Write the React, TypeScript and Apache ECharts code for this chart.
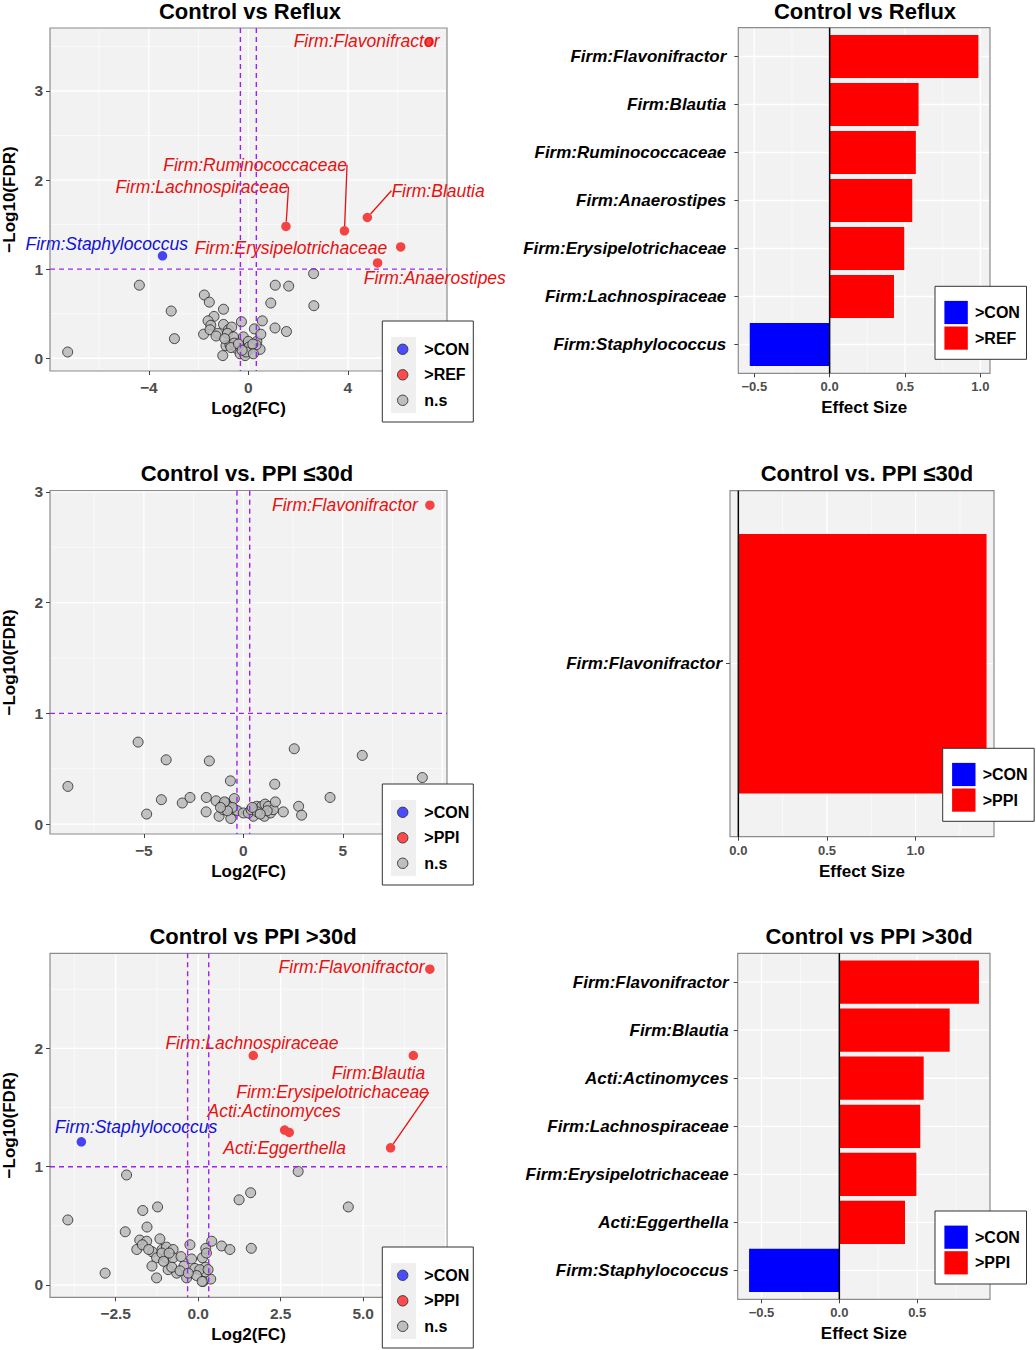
import React, { useEffect, useRef } from 'react';
import * as echarts from 'echarts';

const FONT = '"Liberation Sans", Arial, Helvetica, sans-serif';

// ======================= DATA =======================
// --- Volcano: Control vs Reflux ---
const REFLUX_NS: number[][] = [
  [-7.26, 0.07], [-4.38, 0.82], [-3.10, 0.53], [-2.97, 0.22], [-1.77, 0.71], [-1.57, 0.63],
  [-1.00, 0.55], [-1.38, 0.47], [-1.62, 0.42], [-1.51, 0.37], [-1.80, 0.27], [-1.54, 0.32],
  [-1.23, 0.28], [-1.30, 0.25], [-1.00, 0.38], [-0.80, 0.32], [-0.67, 0.35], [-0.84, 0.28],
  [-0.60, 0.24], [-0.90, 0.14], [-0.74, 0.15], [-1.03, 0.03], [-0.47, 0.11], [-0.33, 0.05],
  [-0.28, 0.41], [-0.20, 0.24], [-0.16, 0.11], [-0.13, 0.03], [0.00, 0.19], [0.10, 0.11],
  [0.24, 0.33], [0.34, 0.19], [0.47, 0.10], [0.50, 0.27], [0.56, 0.42], [0.31, 0.15],
  [0.04, 0.13], [-0.57, 0.17], [-0.09, 0.07], [0.90, 0.62], [1.08, 0.82], [1.62, 0.81],
  [1.07, 0.34], [1.53, 0.30], [2.62, 0.95], [2.63, 0.59], [-0.70, 0.12], [-0.40, 0.16],
  [0.18, 0.16], [-0.25, 0.09], [0.20, 0.05], [-0.95, 0.22],
];
const REFLUX_CON_TAXA = ['Firm:Staphylococcus'];
const REFLUX_CON_POINTS: number[][] = [[-3.45, 1.15]];
const REFLUX_UP_TAXA = [
  'Firm:Flavonifractor', 'Firm:Blautia', 'Firm:Ruminococcaceae',
  'Firm:Lachnospiraceae', 'Firm:Erysipelotrichaceae', 'Firm:Anaerostipes',
];
const REFLUX_UP_POINTS: number[][] = [[7.26, 3.55], [4.78, 1.58], [3.86, 1.43], [1.51, 1.48], [6.12, 1.25], [5.19, 1.07]];

// --- Volcano: Control vs PPI <=30d ---
const PPI_SHORT_NS: number[][] = [
  [-8.82, 0.34], [-5.29, 0.74], [-3.88, 0.58], [-1.71, 0.57], [2.56, 0.68], [5.98, 0.62],
  [9.00, 0.42], [-0.65, 0.39], [1.58, 0.36], [-4.86, 0.09], [-4.12, 0.22], [-3.07, 0.19],
  [-2.68, 0.24], [-1.86, 0.24], [-1.87, 0.11], [-1.37, 0.21], [-1.22, 0.07], [-1.04, 0.17],
  [-0.87, 0.19], [-0.70, 0.16], [-1.01, 0.13], [-0.67, 0.13], [-0.45, 0.23], [-0.63, 0.05],
  [-0.42, 0.13], [-0.30, 0.12], [0.00, 0.10], [0.50, 0.07], [0.59, 0.14], [0.67, 0.16],
  [0.80, 0.10], [0.92, 0.16], [1.06, 0.07], [1.09, 0.18], [1.26, 0.16], [1.37, 0.10],
  [1.51, 0.13], [1.61, 0.20], [2.01, 0.11], [2.78, 0.16], [2.93, 0.08], [4.36, 0.24],
  [0.25, 0.10], [0.39, 0.13], [-0.55, 0.15], [-0.80, 0.12], [-0.95, 0.20], [0.70, 0.11],
  [1.20, 0.12], [0.45, 0.15], [-1.15, 0.15], [0.85, 0.09],
];
const PPI_SHORT_UP_TAXA = ['Firm:Flavonifractor'];
const PPI_SHORT_UP_POINTS: number[][] = [[9.38, 2.88]];

// --- Volcano: Control vs PPI >30d ---
const PPI_LONG_NS: number[][] = [
  [-3.95, 0.55], [-2.82, 0.10], [-2.17, 0.93], [-2.21, 0.45], [-1.68, 0.63], [-1.23, 0.66],
  [-1.55, 0.49], [-1.77, 0.38], [-1.56, 0.37], [-1.86, 0.30], [-1.69, 0.34], [-1.16, 0.39],
  [-1.39, 0.28], [-1.26, 0.23], [-1.09, 0.30], [-0.96, 0.32], [-0.76, 0.30], [-0.98, 0.23],
  [-0.76, 0.23], [-0.52, 0.24], [-1.40, 0.16], [-1.26, 0.06], [-0.91, 0.13], [-0.65, 0.10],
  [-0.43, 0.16], [-0.25, 0.34], [-0.20, 0.22], [-0.10, 0.14], [-0.35, 0.06], [0.13, 0.23],
  [0.23, 0.31], [0.25, 0.27], [0.15, 0.03], [0.38, 0.05], [0.41, 0.37], [0.71, 0.33],
  [0.96, 0.30], [1.24, 0.72], [1.59, 0.78], [1.61, 0.31], [3.03, 0.96], [4.55, 0.66],
  [0.22, 0.15], [0.22, 0.11], [-1.10, 0.27], [-0.80, 0.15], [-0.55, 0.12], [0.05, 0.13],
  [-0.05, 0.08], [0.12, 0.03], [-1.50, 0.30], [-0.30, 0.10], [0.30, 0.13], [-0.88, 0.27],
  [-1.05, 0.20],
];
const PPI_LONG_CON_TAXA = ['Firm:Staphylococcus'];
const PPI_LONG_CON_POINTS: number[][] = [[-3.54, 1.21]];
const PPI_LONG_UP_TAXA = [
  'Firm:Flavonifractor', 'Firm:Lachnospiraceae', 'Firm:Blautia',
  'Acti:Actinomyces', 'Acti:Eggerthella', 'Firm:Erysipelotrichaceae',
];
const PPI_LONG_UP_POINTS: number[][] = [[7.02, 2.67], [1.67, 1.94], [6.52, 1.94], [2.62, 1.31], [2.76, 1.29], [5.83, 1.16]];

// --- Effect size bars ---
const REFLUX_BAR_TAXA = [
  'Firm:Flavonifractor', 'Firm:Blautia', 'Firm:Ruminococcaceae', 'Firm:Anaerostipes',
  'Firm:Erysipelotrichaceae', 'Firm:Lachnospiraceae', 'Firm:Staphylococcus',
];
const REFLUX_BAR_EFFECT = [0.987, 0.59, 0.572, 0.548, 0.495, 0.427, -0.53];
const REFLUX_BAR_GROUP = ['up', 'up', 'up', 'up', 'up', 'up', 'con'];

const PPI_SHORT_BAR_TAXA = ['Firm:Flavonifractor'];
const PPI_SHORT_BAR_EFFECT = [1.40];
const PPI_SHORT_BAR_GROUP = ['up'];

const PPI_LONG_BAR_TAXA = [
  'Firm:Flavonifractor', 'Firm:Blautia', 'Acti:Actinomyces', 'Firm:Lachnospiraceae',
  'Firm:Erysipelotrichaceae', 'Acti:Eggerthella', 'Firm:Staphylococcus',
];
const PPI_LONG_BAR_EFFECT = [0.897, 0.709, 0.542, 0.520, 0.495, 0.422, -0.58];
const PPI_LONG_BAR_GROUP = ['up', 'up', 'up', 'up', 'up', 'up', 'con'];

// --- thresholds ---
const LOG2FC_CUT = 0.32;
const NEG_LOG10_FDR_CUT = 1;

// --- tick labels / breaks ---
const REFLUX_X_TICKS = [-4, 0, 4];
const REFLUX_X_BREAKS = [-4, 0, 4];
const REFLUX_X_MINOR = [-6, -2, 2, 6];
const REFLUX_Y_TICKS = [0, 1, 2, 3];
const REFLUX_Y_MINOR = [0.5, 1.5, 2.5, 3.5];

const PPI_SHORT_X_TICKS = [-5, 0, 5];
const PPI_SHORT_X_BREAKS = [-5, 0, 5, 10];
const PPI_SHORT_X_MINOR = [-7.5, -2.5, 2.5, 7.5];
const PPI_SHORT_Y_TICKS = [0, 1, 2, 3];
const PPI_SHORT_Y_MINOR = [0.5, 1.5, 2.5];

const PPI_LONG_X_TICKS = [-2.5, 0, 2.5, 5];
const PPI_LONG_X_BREAKS = [-2.5, 0, 2.5, 5, 7.5];
const PPI_LONG_X_MINOR = [-3.75, -1.25, 1.25, 3.75, 6.25];
const PPI_LONG_Y_TICKS = [0, 1, 2];
const PPI_LONG_Y_MINOR = [0.5, 1.5, 2.5];

const REFLUX_BAR_TICKS = [-0.5, 0, 0.5, 1.0];
const REFLUX_BAR_MINOR = [-0.25, 0.25, 0.75];
const PPI_SHORT_BAR_TICKS = [0, 0.5, 1.0];
const PPI_SHORT_BAR_MINOR = [0.25, 0.75, 1.25];
const PPI_LONG_BAR_TICKS = [-0.5, 0, 0.5];
const PPI_LONG_BAR_MINOR = [-0.25, 0.25, 0.75];

// ======================= STYLE / LAYOUT =======================
const PANEL_BG = '#F2F2F2';
const PANEL_BORDER = '#8C8C8C';
const TICK_COLOR = '#444444';
const TICK_TEXT = '#4D4D4D';
const LABEL_RED = '#E81010';
const LABEL_BLUE = '#1010D8';
const POINT_RED = '#F44343';
const POINT_BLUE = '#4444F2';
const BAR_COLORS: Record<string, string> = { up: '#FF0000', con: '#0000FF' };

const LINE_STYLES: Record<number, any> = {
  0: { stroke: '#FFFFFF', lineWidth: 1.3 },
  1: { stroke: '#FFFFFF', lineWidth: 1.3 },
  2: { stroke: '#FFFFFF', lineWidth: 0.6 },
  3: { stroke: '#FFFFFF', lineWidth: 0.6 },
  4: { stroke: '#000000', lineWidth: 1.5 },
  5: { stroke: '#A020F0', lineWidth: 1.4, lineDash: [5, 4] },
  6: { stroke: '#A020F0', lineWidth: 1.4, lineDash: [5, 4] },
};
const VERTICAL_KINDS = [0, 2, 4, 5];

const VOLCANO_PANELS = [
  {
    title: 'Control vs Reflux', titleX: 250, titleTop: 0,
    rect: { left: 50, top: 28, width: 397, height: 343 },
    xRange: [-7.97, 7.98], yRange: [-0.143, 3.707],
    xTicks: REFLUX_X_TICKS, xBreaks: REFLUX_X_BREAKS, xMinor: REFLUX_X_MINOR,
    yTicks: REFLUX_Y_TICKS, yMinor: REFLUX_Y_MINOR, xDecimals: 0,
    ns: REFLUX_NS, conTaxa: REFLUX_CON_TAXA, conPoints: REFLUX_CON_POINTS,
    upTaxa: REFLUX_UP_TAXA, upPoints: REFLUX_UP_POINTS, upName: '>REF',
    conOffsets: [[-55.8, -12]], conSegments: [false],
    upOffsets: [[-62.5, -1], [70.7, -26.7], [-89.3, -66], [-84, -39.7], [-109.7, 1.3], [57.3, 15.3]],
    upSegments: [false, true, true, true, false, false],
    legend: [382.3, 321], xNameGap: 28.5,
  },
  {
    title: 'Control vs. PPI \u226430d', titleX: 247, titleTop: 462,
    rect: { left: 50, top: 490.7, width: 397, height: 343.3 },
    xRange: [-9.72, 10.24], yRange: [-0.09, 3.011],
    xTicks: PPI_SHORT_X_TICKS, xBreaks: PPI_SHORT_X_BREAKS, xMinor: PPI_SHORT_X_MINOR,
    yTicks: PPI_SHORT_Y_TICKS, yMinor: PPI_SHORT_Y_MINOR, xDecimals: 0,
    ns: PPI_SHORT_NS, conTaxa: [] as string[], conPoints: [] as number[][],
    upTaxa: PPI_SHORT_UP_TAXA, upPoints: PPI_SHORT_UP_POINTS, upName: '>PPI',
    conOffsets: [] as number[][], conSegments: [] as boolean[],
    upOffsets: [[-85, 0]], upSegments: [false],
    legend: [382.3, 784], xNameGap: 29,
  },
  {
    title: 'Control vs PPI >30d', titleX: 253, titleTop: 925,
    rect: { left: 50, top: 953.3, width: 397, height: 344 },
    xRange: [-4.49, 7.54], yRange: [-0.104, 2.804],
    xTicks: PPI_LONG_X_TICKS, xBreaks: PPI_LONG_X_BREAKS, xMinor: PPI_LONG_X_MINOR,
    yTicks: PPI_LONG_Y_TICKS, yMinor: PPI_LONG_Y_MINOR, xDecimals: 1,
    ns: PPI_LONG_NS, conTaxa: PPI_LONG_CON_TAXA, conPoints: PPI_LONG_CON_POINTS,
    upTaxa: PPI_LONG_UP_TAXA, upPoints: PPI_LONG_UP_POINTS, upName: '>PPI',
    conOffsets: [[54.7, -14.6]], conSegments: [false],
    upOffsets: [[-78.3, -2.3], [-1.3, -12.4], [-34.9, 17.3], [-10.5, -19.3], [-4.6, 15.7], [-58, -55.4]],
    upSegments: [false, false, false, false, false, true],
    legend: [382.3, 1247], xNameGap: 29,
  },
];

const BAR_PANELS = [
  {
    title: 'Control vs Reflux', titleX: 865, titleTop: 0,
    rect: { left: 738.3, top: 27.7, width: 251.7, height: 345.6 },
    xRange: [-0.606, 1.064], xTicks: REFLUX_BAR_TICKS, xMinor: REFLUX_BAR_MINOR,
    taxa: REFLUX_BAR_TAXA, effect: REFLUX_BAR_EFFECT, groups: REFLUX_BAR_GROUP,
    upName: '>REF', legend: [935, 286.3], labelMargin: 12,
  },
  {
    title: 'Control vs. PPI \u226430d', titleX: 867, titleTop: 462,
    rect: { left: 730, top: 490.7, width: 264, height: 346 },
    xRange: [-0.047, 1.442], xTicks: PPI_SHORT_BAR_TICKS, xMinor: PPI_SHORT_BAR_MINOR,
    taxa: PPI_SHORT_BAR_TAXA, effect: PPI_SHORT_BAR_EFFECT, groups: PPI_SHORT_BAR_GROUP,
    upName: '>PPI', legend: [942.7, 748.3], labelMargin: 8,
  },
  {
    title: 'Control vs PPI >30d', titleX: 869, titleTop: 925,
    rect: { left: 737.7, top: 953.3, width: 252.3, height: 346 },
    xRange: [-0.653, 0.968], xTicks: PPI_LONG_BAR_TICKS, xMinor: PPI_LONG_BAR_MINOR,
    taxa: PPI_LONG_BAR_TAXA, effect: PPI_LONG_BAR_EFFECT, groups: PPI_LONG_BAR_GROUP,
    upName: '>PPI', legend: [935, 1211], labelMargin: 9,
  },
];

// ======================= HELPERS =======================
const fmtTick = (decimals: number) => (v: number) => {
  const s = Math.abs(v).toFixed(decimals);
  return (v < -1e-9 ? '\u2212' : '') + s;
};

const nameStyle = { fontFamily: FONT, fontWeight: 'bold', fontSize: 17, color: '#000000' };

function lineSeries(axisIdx: number, rows: number[][], z: number, inset: number) {
  return {
    type: 'custom',
    xAxisIndex: axisIdx,
    yAxisIndex: axisIdx,
    z,
    silent: true,
    clip: false,
    data: rows,
    renderItem: (params: any, api: any) => {
      const cs = params.coordSys;
      const kind = api.value(2);
      const p = api.coord([api.value(0), api.value(1)]);
      const vertical = VERTICAL_KINDS.indexOf(kind) >= 0;
      const shape = vertical
        ? { x1: p[0], y1: cs.y + inset, x2: p[0], y2: cs.y + cs.height - inset }
        : { x1: cs.x + inset, y1: p[1], x2: cs.x + cs.width - inset, y2: p[1] };
      return { type: 'line', shape, style: { ...LINE_STYLES[kind], fill: null } };
    },
  };
}

function labeledScatter(axisIdx: number, name: string, taxa: string[], pts: number[][],
  offsets: number[][], segs: boolean[], pointColor: string, textColor: string) {
  return {
    type: 'scatter',
    name,
    xAxisIndex: axisIdx,
    yAxisIndex: axisIdx,
    z: 3,
    silent: true,
    symbolSize: 9.5,
    itemStyle: { color: pointColor, opacity: 1 },
    data: pts.map((p, k) => ({
      name: taxa[k],
      value: p,
      labelLine: { show: segs[k], lineStyle: { color: textColor, width: 1.3, opacity: 1 } },
    })),
    label: {
      show: true,
      position: 'inside',
      formatter: '{b}',
      color: textColor,
      opacity: 1,
      fontStyle: 'italic',
      fontSize: 17.5,
      fontFamily: FONT,
      align: 'center',
      verticalAlign: 'middle',
      textBorderWidth: 0,
    },
    labelLine: { show: false, lineStyle: { color: textColor, width: 1.3, opacity: 1 } },
    labelLayout: (params: any) => {
      const o = offsets[params.dataIndex] || [0, 0];
      return { dx: o[0], dy: o[1] };
    },
  };
}

function volcanoLegend(x: number, y: number, labels: string[]) {
  const colors = ['#4B4BFF', '#FF4B4B', '#BEBEBE'];
  const children: any[] = [
    { type: 'rect', z: 100, shape: { x: 0, y: 0, width: 91, height: 101 }, style: { fill: '#FFFFFF', stroke: '#333333', lineWidth: 1 } },
    { type: 'rect', z: 100, shape: { x: 8.7, y: 16, width: 25, height: 76 }, style: { fill: '#EFEFEF' } },
  ];
  labels.forEach((t, k) => {
    const cy = 28.3 + 25.5 * k;
    children.push({ type: 'circle', z: 101, shape: { cx: 20.4, cy, r: 5.2 }, style: { fill: colors[k], stroke: '#333333', lineWidth: 0.9 } });
    children.push({ type: 'text', z: 101, x: 42, y: cy, style: { text: t, fill: '#000000', fontSize: 16, fontWeight: 'bold', fontFamily: FONT, verticalAlign: 'middle', align: 'left' } });
  });
  return { type: 'group', x, y, z: 100, children };
}

function barLegend(x: number, y: number, labels: string[]) {
  const colors = [BAR_COLORS.con, BAR_COLORS.up];
  const children: any[] = [
    { type: 'rect', z: 100, shape: { x: 0, y: 0, width: 91.5, height: 73 }, style: { fill: '#FFFFFF', stroke: '#333333', lineWidth: 1 } },
  ];
  labels.forEach((t, k) => {
    const top = 14.6 + 25.6 * k;
    children.push({ type: 'rect', z: 101, shape: { x: 9.4, y: top, width: 23.4, height: 23.2 }, style: { fill: colors[k] } });
    children.push({ type: 'text', z: 101, x: 40, y: top + 11.6, style: { text: t, fill: '#000000', fontSize: 16, fontWeight: 'bold', fontFamily: FONT, verticalAlign: 'middle', align: 'left' } });
  });
  return { type: 'group', x, y, z: 100, children };
}

// ======================= OPTION =======================
function buildOption() {
  const grid: any[] = [];
  const xAxis: any[] = [];
  const yAxis: any[] = [];
  const series: any[] = [];
  const title: any[] = [];
  const elements: any[] = [];

  VOLCANO_PANELS.forEach((p) => {
    const idx = grid.length;
    grid.push({
      ...p.rect, show: true, backgroundColor: PANEL_BG, borderColor: PANEL_BORDER, borderWidth: 1.2,
      containLabel: false, outerBoundsMode: 'none',
    });
    xAxis.push({
      gridIndex: idx, type: 'value', min: p.xRange[0], max: p.xRange[1],
      name: 'Log2(FC)', nameLocation: 'middle', nameGap: p.xNameGap, nameTextStyle: nameStyle, nameMoveOverlap: false,
      axisLine: { show: false, onZero: false },
      axisTick: { show: true, customValues: p.xTicks, length: 4, lineStyle: { color: TICK_COLOR, width: 1 } },
      axisLabel: {
        customValues: p.xTicks, margin: 8, color: TICK_TEXT, fontWeight: 'bold', fontSize: 15.5, fontFamily: FONT,
        formatter: fmtTick(p.xDecimals), hideOverlap: false,
      },
      splitLine: { show: false },
    });
    yAxis.push({
      gridIndex: idx, type: 'value', min: p.yRange[0], max: p.yRange[1],
      name: '\u2212Log10(FDR)', nameLocation: 'middle', nameGap: 32, nameRotate: 90, nameTextStyle: nameStyle, nameMoveOverlap: false,
      axisLine: { show: false, onZero: false },
      axisTick: { show: true, customValues: p.yTicks, length: 4, lineStyle: { color: TICK_COLOR, width: 1 } },
      axisLabel: {
        customValues: p.yTicks, margin: 7, color: TICK_TEXT, fontWeight: 'bold', fontSize: 15.5, fontFamily: FONT,
        formatter: fmtTick(0), hideOverlap: false,
      },
      splitLine: { show: false },
    });

    const gridRows: number[][] = [
      ...p.xMinor.map((v) => [v, 0, 2]),
      ...p.yMinor.map((v) => [0, v, 3]),
      ...p.xBreaks.map((v) => [v, 0, 0]),
      ...p.yTicks.map((v) => [0, v, 1]),
    ];
    series.push(lineSeries(idx, gridRows, 1, 1));

    series.push({
      type: 'scatter', name: 'n.s', xAxisIndex: idx, yAxisIndex: idx, z: 2, silent: true,
      symbolSize: 10, data: p.ns,
      itemStyle: { color: 'rgba(185,185,185,0.85)', borderColor: 'rgba(25,25,25,0.85)', borderWidth: 0.9, opacity: 1 },
    });
    if (p.conPoints.length) {
      series.push(labeledScatter(idx, '>CON', p.conTaxa, p.conPoints, p.conOffsets, p.conSegments, POINT_BLUE, LABEL_BLUE));
    }
    series.push(labeledScatter(idx, p.upName, p.upTaxa, p.upPoints, p.upOffsets, p.upSegments, POINT_RED, LABEL_RED));

    const refRows: number[][] = [
      [-LOG2FC_CUT, 0, 5],
      [LOG2FC_CUT, 0, 5],
      [0, NEG_LOG10_FDR_CUT, 6],
    ];
    series.push(lineSeries(idx, refRows, 5, 0));

    title.push({
      text: p.title, left: p.titleX, top: p.titleTop, textAlign: 'center', padding: 0,
      textStyle: { fontFamily: FONT, fontWeight: 'bold', fontSize: 22, color: '#000000' },
    });
    elements.push(volcanoLegend(p.legend[0], p.legend[1], ['>CON', p.upName, 'n.s']));
  });

  BAR_PANELS.forEach((p) => {
    const a = grid.length;
    const b = a + 1;
    const n = p.taxa.length;
    const unit = p.rect.height / (n + 0.2);
    const inset = unit * 0.1;
    grid.push({
      ...p.rect, show: true, backgroundColor: PANEL_BG, borderColor: PANEL_BORDER, borderWidth: 1.2,
      containLabel: false, outerBoundsMode: 'none',
    });
    grid.push({
      left: p.rect.left, width: p.rect.width, top: p.rect.top + inset, height: p.rect.height - 2 * inset,
      show: false, containLabel: false, outerBoundsMode: 'none',
    });
    xAxis.push({
      gridIndex: a, type: 'value', min: p.xRange[0], max: p.xRange[1],
      name: 'Effect Size', nameLocation: 'middle', nameGap: 26, nameTextStyle: nameStyle, nameMoveOverlap: false,
      axisLine: { show: false, onZero: false },
      axisTick: { show: true, customValues: p.xTicks, length: 4, lineStyle: { color: TICK_COLOR, width: 1 } },
      axisLabel: {
        customValues: p.xTicks, margin: 7, color: TICK_TEXT, fontWeight: 'bold', fontSize: 13, fontFamily: FONT,
        formatter: fmtTick(1), hideOverlap: false,
      },
      splitLine: { show: false },
    });
    yAxis.push({ gridIndex: a, type: 'value', min: 0, max: 1, show: false, axisLine: { onZero: false } });
    xAxis.push({ gridIndex: b, type: 'value', min: p.xRange[0], max: p.xRange[1], show: false, axisLine: { onZero: false } });
    yAxis.push({
      gridIndex: b, type: 'category', data: p.taxa, inverse: true,
      axisLine: { show: false, onZero: false },
      axisTick: { show: true, alignWithLabel: true, length: 4, lineStyle: { color: TICK_COLOR, width: 1 } },
      axisLabel: {
        margin: p.labelMargin, color: '#000000', fontWeight: 'bold', fontStyle: 'italic', fontSize: 17,
        fontFamily: FONT, interval: 0, hideOverlap: false,
      },
      splitLine: { show: false },
    });

    const vRows: number[][] = [
      ...p.xMinor.map((v) => [v, 0.5, 2]),
      ...p.xTicks.map((v) => [v, 0.5, 0]),
    ];
    series.push(lineSeries(a, vRows, 1, 1));
    const hRows: number[][] = p.taxa.map((_, i) => [0, i, 1]);
    series.push(lineSeries(b, hRows, 1, 1));

    series.push({
      type: 'bar', name: 'Effect Size', xAxisIndex: b, yAxisIndex: b, z: 2, silent: true,
      barWidth: '90%',
      data: p.effect.map((v, i) => ({ value: v, itemStyle: { color: BAR_COLORS[p.groups[i]] } })),
    });
    series.push(lineSeries(a, [[0, 0.5, 4]], 3, 0));

    title.push({
      text: p.title, left: p.titleX, top: p.titleTop, textAlign: 'center', padding: 0,
      textStyle: { fontFamily: FONT, fontWeight: 'bold', fontSize: 22, color: '#000000' },
    });
    elements.push(barLegend(p.legend[0], p.legend[1], ['>CON', p.upName]));
  });

  return {
    animation: false,
    backgroundColor: '#FFFFFF',
    textStyle: { fontFamily: FONT },
    title,
    grid,
    xAxis,
    yAxis,
    series,
    graphic: { elements },
  };
}

export default function App() {
  const ref = useRef<HTMLDivElement | null>(null);
  useEffect(() => {
    if (!ref.current) return;
    const chart = echarts.init(ref.current, undefined, { renderer: 'svg' });
    chart.setOption(buildOption() as any);
    return () => chart.dispose();
  }, []);
  return (
    <div
      ref={ref}
      style={{ position: 'absolute', left: 0, top: 0, width: '1036px', height: '1350px', background: '#fff' }}
    />
  );
}
